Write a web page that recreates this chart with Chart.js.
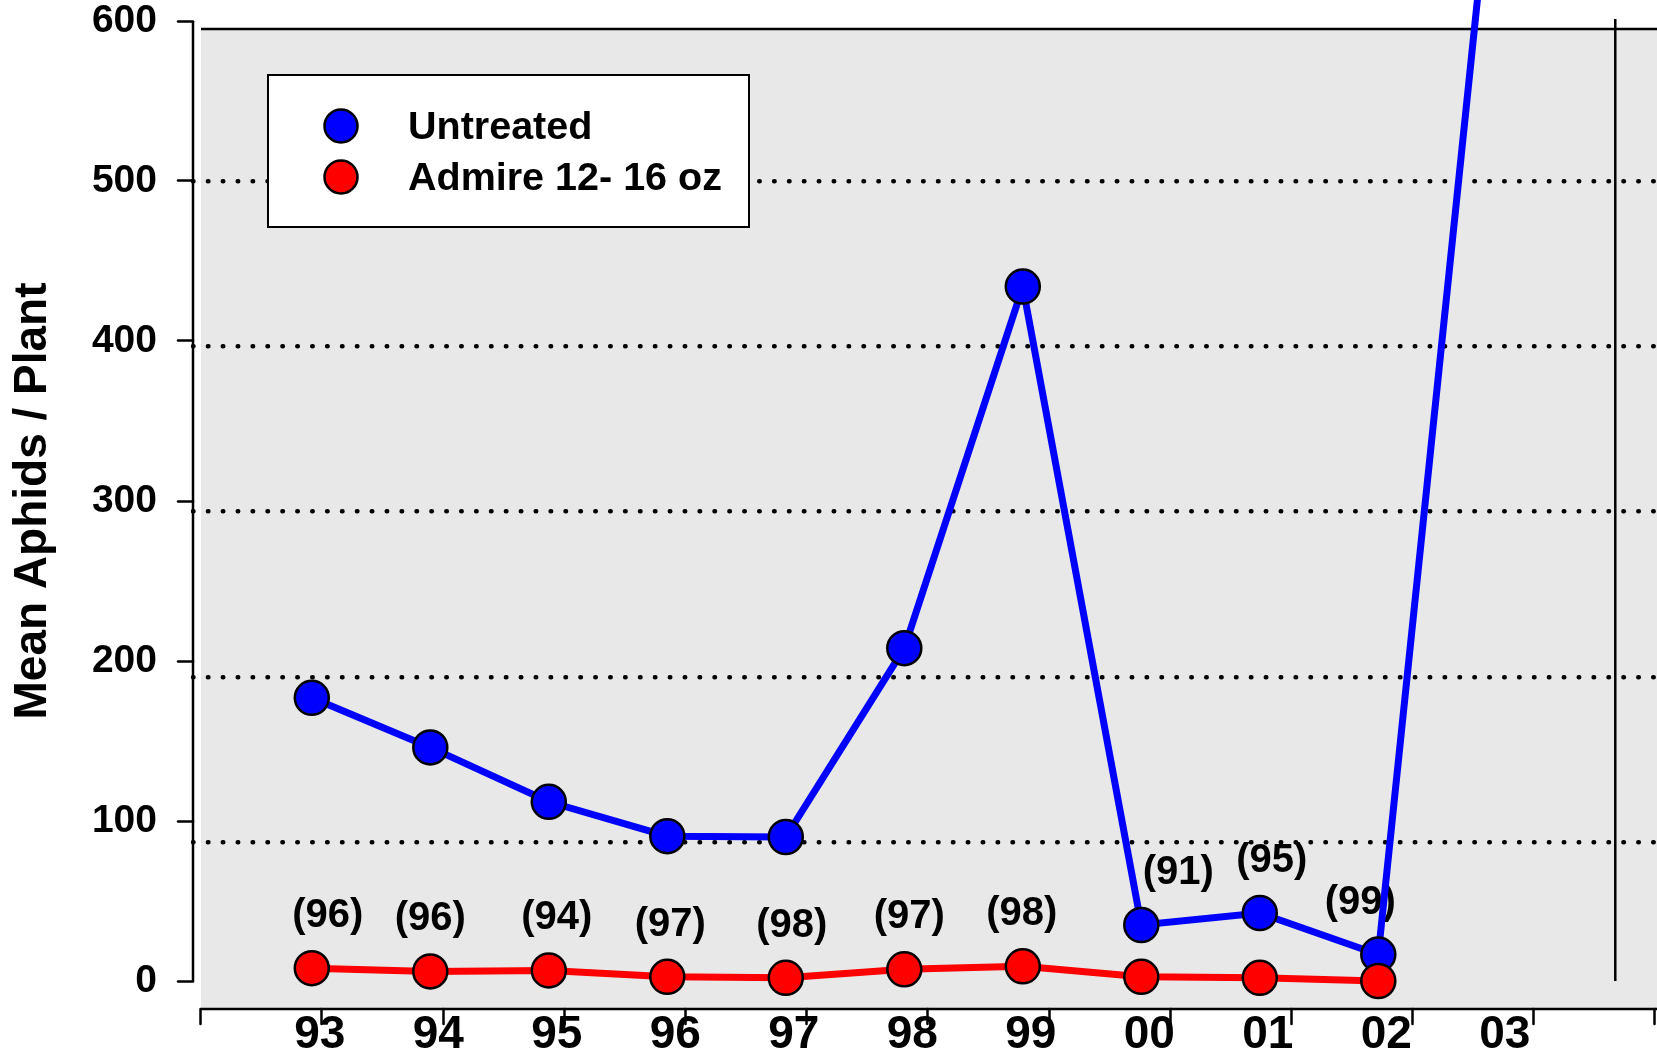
<!DOCTYPE html>
<html>
<head>
<meta charset="utf-8">
<script src="https://cdn.jsdelivr.net/npm/chart.js@4.4.1/dist/chart.umd.min.js"></script>
<style>
  html, body { margin: 0; padding: 0; background: #fff; }
  #wrap { width: 1657px; height: 1055px; position: relative; }
</style>
</head>
<body>
<div id="wrap"><canvas id="aphidChart"></canvas></div>
<script>
// values
const years = ["93", "94", "95", "96", "97", "98", "99", "00", "01", "02", "03"];
const untreated = [177, 146, 112, 90.5, 90, 208, 434, 35, 42.5, 16.5, 730];
const admire = [8, 6, 6.6, 2.6, 2, 7.3, 9.2, 2.6, 2, 0];
const pctControl = ["(96)", "(96)", "(94)", "(97)", "(98)", "(97)", "(98)", "(91)", "(95)", "(99)"];
const yTicks = [0, 100, 200, 300, 400, 500, 600];
const gridValues = [100, 200, 300, 400, 500];
const tickSlots = [0, 1, 2, 3, 4, 5, 6, 7, 8, 9, 10, 11, 12];

const FONT = "'Liberation Sans', Arial, Helvetica, sans-serif";
Chart.defaults.font.family = FONT;
Chart.defaults.color = "#000";

const ctx = document.getElementById("aphidChart").getContext("2d");

// gray panel, frame lines, % labels, legend and y title
const decor = {
  id: "decor",
  beforeDraw(chart) {
    const { ctx, chartArea: a, scales: { y } } = chart;
    const top = y.getPixelForValue(595);
    ctx.save();
    ctx.fillStyle = "#e8e8e8";
    ctx.fillRect(a.left + 8, top, a.right - a.left - 8, a.bottom - top);
    ctx.strokeStyle = "#000";
    ctx.lineWidth = 2.5;
    ctx.beginPath();
    ctx.moveTo(a.left + 8, top);
    ctx.lineTo(a.right, top);
    ctx.stroke();
    ctx.restore();
    ctx.lineCap = "round"; // makes the dashed grid come out as dots
  },
  beforeDatasetsDraw(chart, args, opts) {
    const { ctx, chartArea: a, scales: { x, y } } = chart;
    ctx.save();
    ctx.lineCap = "butt";
    ctx.strokeStyle = "#000";
    ctx.lineWidth = 2.5;
    // y axis line 600 -> 0
    ctx.beginPath();
    ctx.moveTo(a.left, y.getPixelForValue(600));
    ctx.lineTo(a.left, y.getPixelForValue(0));
    ctx.stroke();
    // x axis line
    ctx.beginPath();
    ctx.moveTo(a.left + 8, a.bottom);
    ctx.lineTo(a.right, a.bottom);
    ctx.stroke();
    // right hand line
    const rx = x.getPixelForValue(11);
    ctx.beginPath();
    ctx.moveTo(rx, y.getPixelForValue(600) - 2);
    ctx.lineTo(rx, y.getPixelForValue(0));
    ctx.stroke();

    // percent control labels
    ctx.font = "bold 40px " + FONT;
    ctx.fillStyle = "#000";
    ctx.textAlign = "center";
    ctx.textBaseline = "middle";
    pctControl.forEach((txt, i) => {
      const anchor = untreated[i] < 60 ? untreated[i] : admire[i];
      const px = x.getPixelForValue(i) + opts.nudge[i];
      const py = y.getPixelForValue(anchor) - 52;
      ctx.fillText(txt, px, py);
    });
    ctx.restore();
  },
  afterDatasetsDraw(chart) {
    const { ctx } = chart;
    ctx.save();
    ctx.lineCap = "butt";
    ctx.fillStyle = "#fff";
    ctx.strokeStyle = "#000";
    ctx.lineWidth = 2;
    ctx.fillRect(268, 75, 481, 152);
    ctx.strokeRect(268, 75, 481, 152);
    ctx.font = "bold 39.5px " + FONT;
    ctx.textAlign = "left";
    ctx.textBaseline = "middle";
    chart.data.datasets.forEach((ds, i) => {
      const cy = 126 + i * 51;
      ctx.beginPath();
      ctx.arc(341, cy, 16.5, 0, Math.PI * 2);
      ctx.fillStyle = ds.pointBackgroundColor;
      ctx.fill();
      ctx.lineWidth = 2.5;
      ctx.stroke();
      ctx.fillStyle = "#000";
      ctx.fillText(ds.label, 408, cy + 2);
    });
    ctx.restore();
  },
  afterDraw(chart) {
    const { ctx, scales: { y } } = chart;
    ctx.save();
    ctx.translate(33, y.getPixelForValue(300));
    ctx.rotate(-Math.PI / 2);
    ctx.font = "bold 46px " + FONT;
    ctx.fillStyle = "#000";
    ctx.textAlign = "center";
    ctx.textBaseline = "middle";
    ctx.fillText("Mean Aphids / Plant", 0, 0);
    ctx.restore();
    ctx.lineCap = "butt";
  }
};

const chart = new Chart(ctx, {
  type: "line",
  data: {
    datasets: [
      {
        label: "Untreated",
        data: untreated.map((v, i) => ({ x: i, y: v })),
        borderColor: "#0000ff",
        pointBackgroundColor: "#0000ff",
        pointBorderColor: "#000",
        order: 1
      },
      {
        label: "Admire 12- 16 oz",
        data: admire.map((v, i) => ({ x: i, y: v })),
        borderColor: "#ff0000",
        pointBackgroundColor: "#ff0000",
        pointBorderColor: "#000",
        order: 0
      }
    ]
  },
  options: {
    responsive: true,
    maintainAspectRatio: false,
    devicePixelRatio: 1,
    animation: false,
    layout: { autoPadding: false, padding: { top: 21, left: 0, right: 0, bottom: 0 } },
    elements: {
      line: { borderWidth: 7, tension: 0, fill: false },
      point: { radius: 17, borderWidth: 2.5, hoverRadius: 17, hoverBorderWidth: 2.5 }
    },
    datasets: { line: { clip: false } },
    plugins: {
      legend: { display: false },
      tooltip: { enabled: false },
      decor: { nudge: [16, 0, 8, 3, 6, 5, -1, 37, 12, -18] }
    },
    scales: {
      x: {
        type: "linear",
        min: -1.0025,
        max: 11.352,
        afterBuildTicks: s => { s.ticks = years.map((_, i) => ({ value: i })); },
        afterFit: s => { s.height = 46; s.paddingLeft = 0; s.paddingRight = 0; },
        grid: { display: false, drawTicks: false },
        border: { display: false },
        ticks: {
          autoSkip: false,
          maxRotation: 0,
          padding: 3,
          labelOffset: 8,
          color: "#000",
          font: { size: 46, weight: "bold", lineHeight: 1 },
          callback: v => years[v] ?? ""
        }
      },
      xTicks: {
        type: "linear",
        position: { y: -17.5 },
        min: -0.0644,
        max: 12.017,
        afterBuildTicks: s => { s.ticks = tickSlots.map(v => ({ value: v })); },
        grid: { display: true, drawOnChartArea: false, drawTicks: true, tickLength: 15, tickWidth: 2.5, tickColor: "#000" },
        border: { display: false },
        ticks: { display: false }
      },
      y: {
        position: "left",
        min: -17.5,
        max: 600,
        afterBuildTicks: s => { s.ticks = yTicks.map(v => ({ value: v })); },
        afterFit: s => { s.width = 193; s.paddingTop = 0; s.paddingBottom = 0; },
        grid: { display: true, drawOnChartArea: false, drawTicks: true, tickLength: 15, tickWidth: 2.5, tickColor: "#000" },
        border: { display: false },
        ticks: { padding: 21, color: "#000", font: { size: 39, weight: "bold", lineHeight: 1 } }
      },
      yGrid: {
        position: "right",
        min: -1.2,
        max: 597.2,
        afterBuildTicks: s => { s.ticks = gridValues.map(v => ({ value: v })); },
        afterFit: s => { s.width = 0; },
        grid: { display: true, drawOnChartArea: true, drawTicks: false, color: "#000", lineWidth: 4.5 },
        border: { display: false, dash: [0.5, 14.4] },
        ticks: { display: false }
      }
    }
  },
  plugins: [decor]
});
</script>
</body>
</html>
